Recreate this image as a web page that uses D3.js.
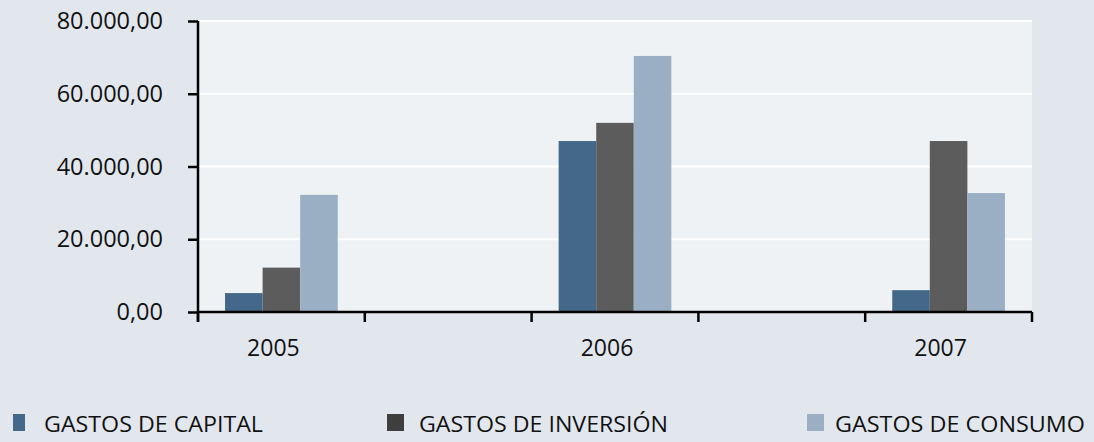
<!DOCTYPE html>
<html>
<head>
<meta charset="utf-8">
<script src="https://cdn.jsdelivr.net/npm/d3@7"></script>
<style>
  body { margin: 0; background: #e2e7ee; }
  svg { display: block; font-family: "Open Sans", sans-serif; }
</style>
</head>
<body>
<div id="chart"></div>
<script>
// data
const slots = ["2005", "gap1", "2006", "gap2", "2007"];
const years = ["2005", "2006", "2007"];
const seriesNames = ["GASTOS DE CAPITAL", "GASTOS DE INVERSIÓN", "GASTOS DE CONSUMO"];
const capital   = [5200, 47000, 6000];
const inversion = [12200, 52000, 47000];
const consumo   = [32200, 70400, 32700];
const yTicks = [0, 20000, 40000, 60000, 80000];

const colors = ["#436889", "#5c5c5c", "#9aafc4"];
const legendColors = ["#436889", "#3e3e3e", "#9aafc4"];

const width = 1094, height = 442;
const plotL = 198, plotR = 1032, plotT = 21, plotB = 312;

const svg = d3.select("#chart").append("svg")
  .attr("width", width)
  .attr("height", height)
  .style("background-color", "#e2e7ee");

const x0 = d3.scaleBand().domain(slots).range([plotL, plotR]).padding(0);
const x1 = d3.scaleBand().domain(seriesNames).range([0, x0.bandwidth()])
  .paddingInner(0).paddingOuter(0.72);
const y = d3.scaleLinear().domain([0, 80000]).range([plotB, plotT]);

// plot background
svg.append("rect")
  .attr("x", plotL).attr("y", plotT)
  .attr("width", plotR - plotL).attr("height", plotB - plotT)
  .attr("fill", "#eef2f5");

// gridlines
svg.append("g").selectAll("line")
  .data(yTicks.filter(d => d > 0))
  .join("line")
    .attr("x1", plotL).attr("x2", plotR)
    .attr("y1", d => y(d)).attr("y2", d => y(d))
    .attr("stroke", "#ffffff")
    .attr("stroke-width", 2);

// bars
const allSeries = [capital, inversion, consumo];
const barData = [];
years.forEach((yr, i) => {
  seriesNames.forEach((s, j) => {
    barData.push({ year: yr, series: s, value: allSeries[j][i], color: colors[j] });
  });
});

svg.append("g").selectAll("rect")
  .data(barData)
  .join("rect")
    .attr("x", d => x0(d.year) + x1(d.series))
    .attr("y", d => y(d.value))
    .attr("width", x1.bandwidth())
    .attr("height", d => y(0) - y(d.value))
    .attr("fill", d => d.color);

// y axis
const fmt = d3.formatLocale({ decimal: ",", thousands: ".", grouping: [3], currency: ["", ""] }).format(",.2f");
const yAxis = svg.append("g")
  .attr("transform", `translate(${plotL},0)`)
  .call(d3.axisLeft(y).tickValues(yTicks).tickFormat(fmt).tickSize(10).tickPadding(25));
yAxis.select(".domain").attr("d", `M0,${plotT}V${plotB + 10}`).attr("stroke", "#000").attr("stroke-width", 2.5);
yAxis.selectAll(".tick line").attr("stroke", "#000").attr("stroke-width", 2.5);
yAxis.selectAll(".tick text")
  .attr("font-size", 23.5)
  .attr("font-family", "Open Sans, sans-serif")
  .attr("fill", "#111");

// x axis
const xAxis = svg.append("g")
  .attr("transform", `translate(0,${plotB})`)
  .call(d3.axisBottom(x0).tickSize(0).tickFormat(d => years.includes(d) ? d : ""));
xAxis.select(".domain").remove();
xAxis.append("line")
  .attr("x1", plotL).attr("x2", plotR)
  .attr("stroke", "#000").attr("stroke-width", 2.5);
xAxis.selectAll(".boundary")
  .data(d3.range(slots.length + 1))
  .join("line")
    .attr("class", "boundary")
    .attr("x1", i => plotL + i * x0.step()).attr("x2", i => plotL + i * x0.step())
    .attr("y1", 0).attr("y2", 10)
    .attr("stroke", "#000").attr("stroke-width", 2.5);
xAxis.selectAll(".tick text")
  .attr("font-size", 23)
  .attr("font-family", "Open Sans, sans-serif")
  .attr("fill", "#111")
  .attr("dx", -8)
  .attr("y", 44)
  .attr("dy", 0)
  .attr("dominant-baseline", "auto");

// legend
const legendSq = [{ x: 13, w: 12 }, { x: 387, w: 17 }, { x: 807, w: 17 }];
const legendTx = [44, 419, 835];
const legendLen = [219, 249, 250];
const legend = svg.append("g");
seriesNames.forEach((s, i) => {
  legend.append("rect")
    .attr("x", legendSq[i].x).attr("y", 414)
    .attr("width", legendSq[i].w).attr("height", 17)
    .attr("fill", legendColors[i]);
  legend.append("text")
    .attr("x", legendTx[i]).attr("y", 432)
    .attr("font-size", 22)
    .attr("fill", "#111")
    .attr("textLength", legendLen[i])
    .attr("lengthAdjust", "spacingAndGlyphs")
    .text(s);
});
</script>
</body>
</html>
